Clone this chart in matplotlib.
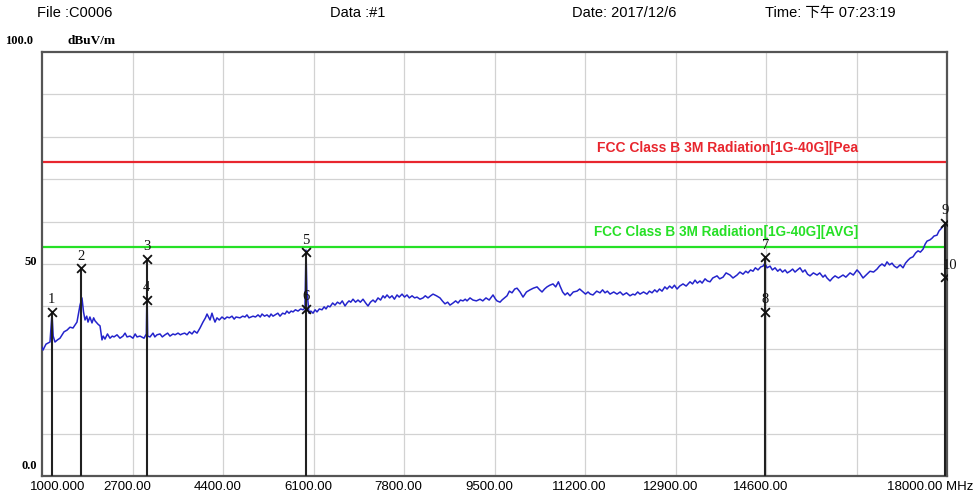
import matplotlib
matplotlib.use("Agg")
import matplotlib.pyplot as plt
from matplotlib.transforms import blended_transform_factory

# --- header info ---
FILE_NO = "File :C0006"
DATA_NO = "Data :#1"
DATE_TXT = "Date: 2017/12/6"
TIME_TXT = "Time: 下午 07:23:19"
UNIT = "dBuV/m"

# --- axis ---
X_TICKS = [1000, 2700, 4400, 6100, 7800, 9500, 11200, 12900, 14600, 16300, 18000]
X_LABELS = ["1000.000", "2700.00", "4400.00", "6100.00", "7800.00", "9500.00",
            "11200.00", "12900.00", "14600.00", "", "18000.00 MHz"]

# --- limits ---
PEAK_LIMIT = 74.0
AVG_LIMIT = 54.0
PEAK_LABEL = "FCC Class B 3M Radiation[1G-40G][Pea"
AVG_LABEL = "FCC Class B 3M Radiation[1G-40G][AVG]"

# --- trace (MHz, dBuV/m) ---
freq = [1000, 1019, 1075, 1150, 1188, 1210, 1244, 1290, 1338, 1413, 1470, 1526, 1582, 1657,
        1714, 1751, 1780, 1808, 1840, 1864, 1900, 1939, 1970, 1996, 2052, 2090, 2127, 2150,
        2183, 2230, 2277, 2320, 2353, 2409, 2465, 2522, 2560, 2597, 2653, 2709, 2750, 2785,
        2841, 2916, 2960, 2972, 2985, 3029, 3085, 3120, 3160, 3217, 3260, 3311, 3360, 3404,
        3461, 3500, 3555, 3600, 3630, 3680, 3724, 3770, 3818, 3860, 3912, 3968, 4024, 4070,
        4100, 4156, 4193, 4220, 4250, 4287, 4330, 4381, 4430, 4475, 4520, 4569, 4610, 4644,
        4719, 4770, 4813, 4850, 4888, 4964, 5010, 5058, 5100, 5133, 5180, 5227, 5270, 5302,
        5340, 5377, 5430, 5471, 5520, 5565, 5600, 5640, 5680, 5715, 5760, 5809, 5860, 5903,
        5940, 5959, 5975, 6016, 6050, 6091, 6130, 6166, 6210, 6260, 6300, 6335, 6370, 6410,
        6460, 6504, 6550, 6598, 6640, 6692, 6730, 6767, 6800, 6842, 6890, 6936, 6980, 7030,
        7080, 7124, 7170, 7218, 7260, 7312, 7360, 7406, 7440, 7481, 7530, 7575, 7620, 7669,
        7710, 7763, 7810, 7857, 7900, 7951, 8000, 8044, 8100, 8157, 8200, 8251, 8300, 8345,
        8410, 8476, 8520, 8570, 8620, 8664, 8721, 8770, 8815, 8860, 8909, 8950, 8984, 9040,
        9096, 9160, 9228, 9280, 9340, 9400, 9472, 9520, 9547, 9604, 9640, 9735, 9780, 9829,
        9880, 9923, 9980, 10036, 10100, 10167, 10230, 10299, 10350, 10393, 10440, 10486,
        10540, 10599, 10650, 10700, 10731, 10780, 10825, 10870, 10918, 10980, 11050, 11100,
        11163, 11210, 11257, 11300, 11350, 11420, 11482, 11530, 11576, 11620, 11670, 11740,
        11801, 11860, 11914, 11980, 12045, 12100, 12139, 12190, 12233, 12300, 12364, 12410,
        12459, 12510, 12553, 12600, 12647, 12700, 12741, 12790, 12835, 12880, 12929, 12980,
        13041, 13100, 13173, 13220, 13267, 13310, 13361, 13400, 13455, 13500, 13548, 13600,
        13680, 13730, 13793, 13850, 13924, 13980, 14056, 14110, 14168, 14220, 14262, 14310,
        14356, 14400, 14450, 14500, 14544, 14580, 14620, 14676, 14720, 14770, 14820, 14864,
        14910, 14958, 15000, 15052, 15100, 15145, 15190, 15239, 15290, 15333, 15380, 15427,
        15490, 15559, 15610, 15671, 15710, 15746, 15803, 15850, 15897, 15960, 16047, 16100,
        16179, 16240, 16310, 16360, 16423, 16480, 16554, 16620, 16685, 16730, 16779, 16830,
        16873, 16920, 16967, 17010, 17061, 17120, 17174, 17220, 17268, 17310, 17362, 17410,
        17456, 17500, 17550, 17590, 17625, 17681, 17720, 17756, 17812, 17850, 17887, 17930,
        17962, 17981]
level = [30.4, 29.7, 31.1, 31.6, 38.4, 33.0, 31.6, 32.1, 32.5, 34.0, 34.4, 35.1, 34.9, 36.3,
         40.3, 42.0, 38.7, 36.8, 37.7, 36.3, 37.5, 36.1, 37.3, 36.6, 35.8, 35.4, 32.1, 33.0,
         32.3, 33.5, 32.5, 33.0, 32.8, 33.3, 32.5, 33.0, 33.7, 32.8, 33.0, 32.5, 33.5, 32.8,
         33.0, 32.5, 33.5, 44.0, 33.0, 32.8, 33.7, 32.8, 33.3, 33.5, 32.8, 33.3, 33.7, 33.0,
         33.5, 33.3, 33.7, 33.3, 33.5, 33.7, 33.3, 34.0, 33.5, 34.2, 33.7, 34.9, 36.3, 37.3,
         38.2, 36.8, 38.4, 37.3, 36.3, 37.3, 36.8, 37.5, 37.0, 37.5, 37.3, 37.7, 37.0, 37.5,
         37.3, 37.7, 37.5, 38.0, 37.3, 37.7, 37.5, 38.0, 37.5, 38.2, 37.7, 38.0, 37.5, 38.2,
         37.7, 38.0, 38.4, 37.7, 38.4, 38.2, 38.9, 38.4, 38.9, 38.7, 39.2, 38.9, 39.4, 39.2,
         39.6, 53.3, 43.9, 38.4, 38.9, 38.4, 39.2, 38.7, 39.4, 39.2, 39.9, 39.4, 40.1, 39.9,
         40.8, 40.3, 41.0, 40.6, 41.3, 40.1, 40.8, 41.3, 41.0, 41.7, 41.0, 41.5, 41.0, 41.7,
         40.8, 40.1, 41.0, 41.5, 41.0, 42.0, 41.5, 42.5, 42.0, 42.7, 42.0, 42.5, 41.7, 42.7,
         42.2, 42.9, 42.2, 42.7, 42.0, 42.5, 42.0, 42.2, 41.7, 42.0, 42.5, 42.0, 42.5, 42.9,
         42.5, 42.0, 41.3, 40.6, 41.0, 40.3, 40.8, 41.3, 40.8, 41.5, 41.3, 41.7, 41.3, 42.0,
         41.5, 41.3, 41.7, 41.3, 42.0, 41.5, 42.7, 41.7, 41.3, 41.0, 41.5, 42.5, 43.6, 43.2,
         44.1, 44.3, 43.4, 42.2, 43.4, 43.9, 44.3, 44.6, 43.9, 43.4, 44.1, 44.6,
         45.0, 45.3, 44.6, 45.8, 44.8, 43.4, 42.7, 43.2, 42.5, 43.4, 43.6, 44.1,
         43.4, 42.9, 43.4, 42.9, 42.7, 43.6, 43.2, 43.9, 43.2, 43.6, 42.9, 43.4,
         42.9, 43.4, 42.7, 43.2, 42.5, 42.9, 42.7, 43.4, 42.9, 43.4, 42.9, 43.6,
         43.2, 43.9, 43.4, 44.1, 43.6, 44.6, 44.1, 44.8, 44.3, 45.0, 44.1, 44.8,
         45.3, 44.8, 45.8, 45.3, 46.2, 45.5, 46.0, 45.5, 46.5, 46.0, 45.8, 46.7,
         47.2, 46.5, 46.9, 47.9, 47.4, 46.7, 47.4, 48.1, 47.6, 48.3, 47.9, 48.6,
         48.3, 49.1, 48.6, 49.3, 49.5, 50.2, 49.1, 49.5, 48.6, 49.1, 48.3, 48.8,
         48.1, 48.6, 47.9, 48.3, 48.8, 48.1, 48.6, 49.1, 48.1, 48.6, 47.6, 47.2,
         47.9, 47.4, 47.9, 46.9, 47.4, 46.7, 46.0, 46.7, 47.2, 46.7, 47.4, 46.9,
         47.9, 47.4, 48.6, 47.9, 46.7, 47.4, 48.3, 48.1, 48.8, 49.5, 50.0, 49.5,
         50.5, 49.8, 50.2, 49.5, 49.1, 49.8, 49.1, 50.2, 50.9, 51.4, 51.7, 52.6,
         53.1, 52.8, 53.5, 54.7, 55.4, 55.7, 56.1, 56.6, 56.8, 57.8, 58.3, 59.0,
         59.2, 59.7]

# --- markers ---
marker_no = ["1", "2", "3", "4", "5", "6", "7", "8", "9", "10"]
marker_freq = [1180, 1730, 2965, 2965, 5960, 5960, 14590, 14590, 17970, 17970]
marker_level = [38.7, 49.0, 51.2, 41.5, 52.8, 39.5, 51.6, 38.7, 59.7, 46.9]

SANS = ["Liberation Sans", "Noto Sans CJK TC", "DejaVu Sans"]
SERIF = ["Liberation Serif", "DejaVu Serif"]

fig = plt.figure(figsize=(9.77, 4.95), dpi=100)
ax = fig.add_axes([42 / 977, 1 - 476 / 495, 905 / 977, 424 / 495])

# grid
for xv in X_TICKS[1:-1]:
    ax.axvline(xv, color="#d2d2d2", lw=0.9, zorder=0)
for yv in range(10, 100, 10):
    ax.axhline(yv, color="#d2d2d2", lw=0.9, zorder=0)

# limit lines
ax.plot([1000, 18000], [PEAK_LIMIT, PEAK_LIMIT], color="#e8262e", lw=1.6, zorder=2)
ax.plot([1000, 18000], [AVG_LIMIT, AVG_LIMIT], color="#26e026", lw=1.6, zorder=2)
ax.text(16330, PEAK_LIMIT + 1.8, PEAK_LABEL, color="#e8262e", ha="right", va="bottom",
        fontsize=10, fontweight="bold", family=SANS)
ax.text(16330, AVG_LIMIT + 1.8, AVG_LABEL, color="#26e026", ha="right", va="bottom",
        fontsize=9.8, fontweight="bold", family=SANS)

# trace
ax.plot(freq, level, color="#2424cc", lw=1.1, zorder=3)

# marker stems: from the top marker of each frequency down to 0
stems = {}
for f, l in zip(marker_freq, marker_level):
    stems[f] = max(stems.get(f, 0), l)
for f, top in stems.items():
    ax.plot([f, f], [0, top], color="#202020", lw=1.5, zorder=4)

ax.scatter(marker_freq, marker_level, marker="x", s=40, color="#111111", lw=1.3, zorder=5)
for n, f, l in zip(marker_no, marker_freq, marker_level):
    ax.annotate(n, (f, l), xytext=(0 if n != "10" else 3, 4), textcoords="offset points",
                ha="center", va="bottom", fontsize=10.5, family=SERIF, color="#111111", zorder=6)

ax.set_xlim(1000, 18000)
ax.set_ylim(0, 100)
ax.set_xticks([])
ax.set_yticks([])
for sp in ax.spines.values():
    sp.set_color("#555555")
    sp.set_linewidth(1.6)

# x labels
tr = blended_transform_factory(ax.transData, ax.transAxes)
for xv, lab in zip(X_TICKS, X_LABELS):
    if not lab:
        continue
    if lab.endswith("MHz"):
        ax.text(xv + 500, -0.011, lab, transform=tr, ha="right", va="top",
                fontsize=9.5, family=SANS)
    elif xv == 1000:
        ax.text(xv + 300, -0.011, lab, transform=tr, ha="center", va="top",
                fontsize=9.5, family=SANS)
    else:
        ax.text(xv - 100, -0.011, lab, transform=tr, ha="center", va="top",
                fontsize=9.5, family=SANS)

# y labels
ty = blended_transform_factory(ax.transAxes, ax.transData)
ax.text(-0.006, 1.0, "0.0", transform=ty, ha="right", va="bottom", fontsize=9,
        fontweight="bold", family=SERIF)
ax.text(-0.006, 50.5, "50", transform=ty, ha="right", va="center", fontsize=9,
        fontweight="bold", family=SERIF)
fig.text(5 / 977, 1 - 41 / 495, "100.0", ha="left", va="center", fontsize=9,
         fontweight="bold", family=SERIF)
fig.text(68 / 977, 1 - 41 / 495, UNIT, ha="left", va="center", fontsize=9.5,
         fontweight="bold", family=SERIF)

# header
hy = 1 - 13 / 495
fig.text(37 / 977, hy, FILE_NO, ha="left", va="center", fontsize=10.5, family=SANS)
fig.text(330 / 977, hy, DATA_NO, ha="left", va="center", fontsize=10.5, family=SANS)
fig.text(572 / 977, hy, DATE_TXT, ha="left", va="center", fontsize=10.5, family=SANS)
fig.text(765 / 977, hy, TIME_TXT, ha="left", va="center", fontsize=10.5, family=SANS)

fig.savefig("out.png", dpi=100)
